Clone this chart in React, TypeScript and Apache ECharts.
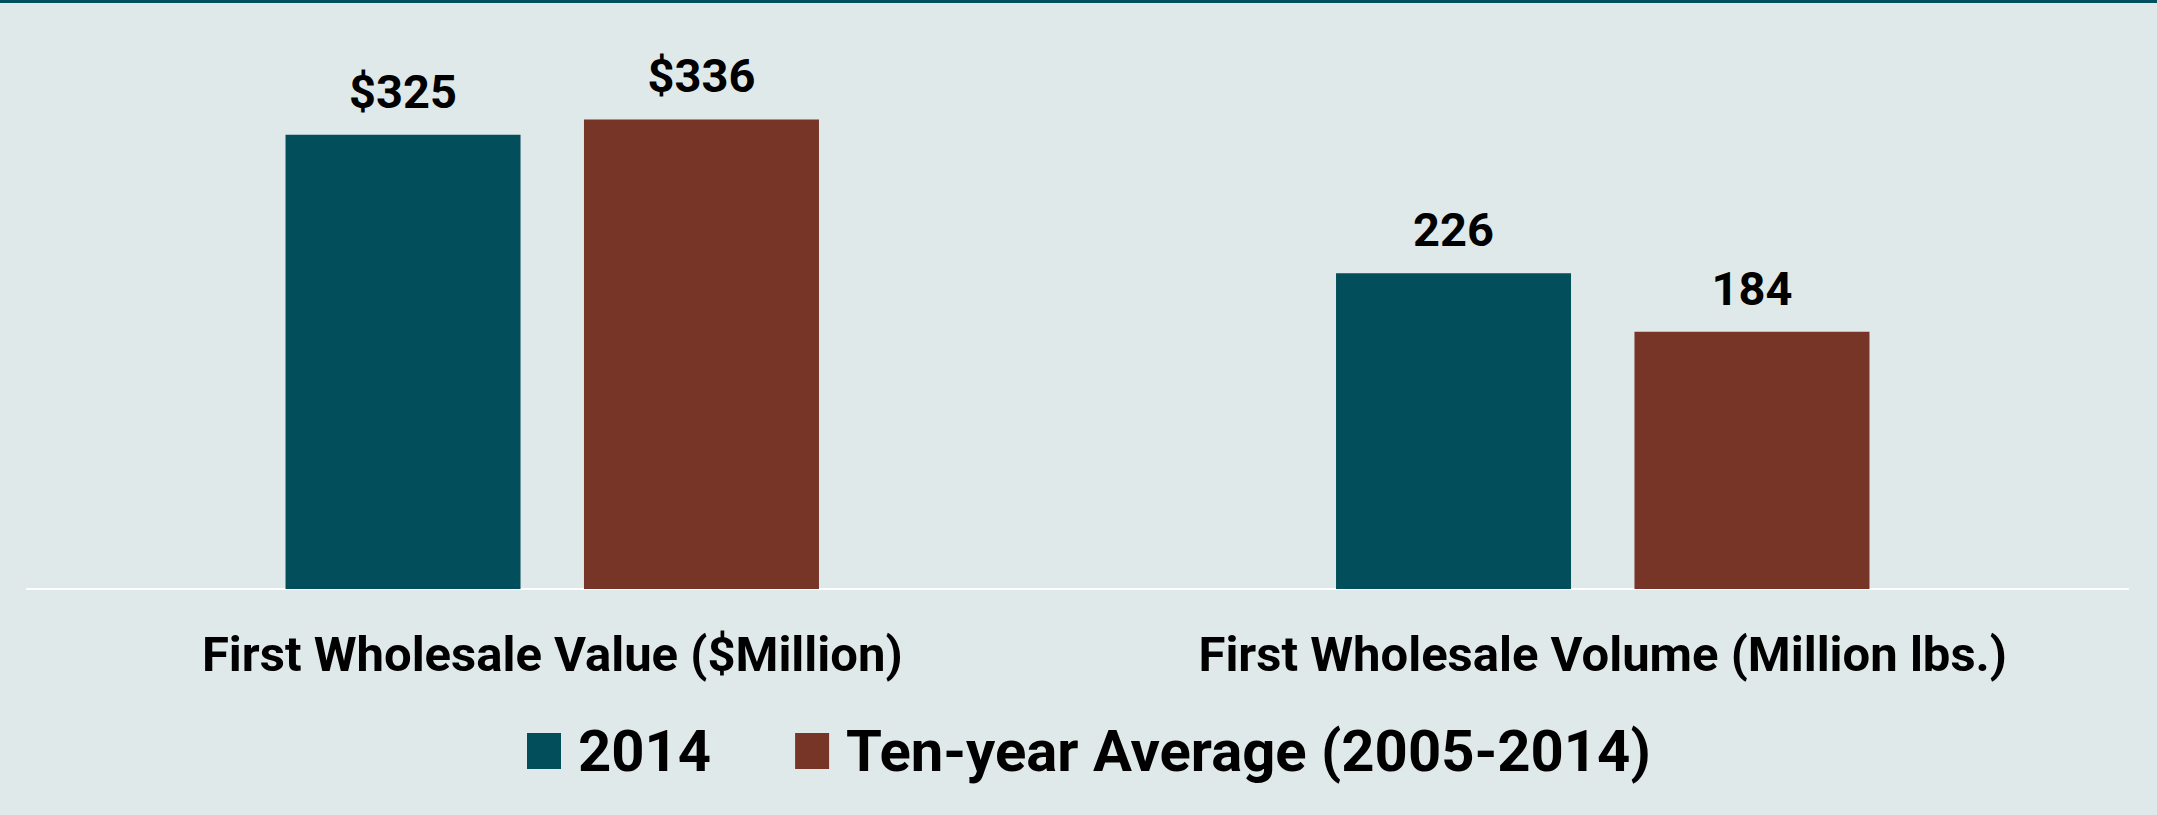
import React, { useEffect, useRef } from "react";
import * as echarts from "echarts";

const categories = ["First Wholesale Value ($Million)", "First Wholesale Volume (Million lbs.)"];
const seriesNames = ["2014", "Ten-year Average (2005-2014)"];
const values2014 = [325, 226];
const valuesAvg = [336, 184];
const labelPrefixes = ["$", ""];

const FONT = "Roboto, sans-serif";

export default function App() {
  const ref = useRef<HTMLDivElement>(null);
  useEffect(() => {
    document.body.style.margin = "0";
    const chart = echarts.init(ref.current!, null, { renderer: "svg" });
    const labelFmt = (p: any) => labelPrefixes[p.dataIndex] + p.value;
    const valueLabel = {
      show: true,
      position: "top",
      distance: 20,
      formatter: labelFmt,
      fontFamily: FONT,
      fontWeight: "bold",
      fontSize: 47,
      color: "#000",
    };
    chart.setOption({
      animation: false,
      backgroundColor: "#e0e9ea",
      graphic: [
        { type: "rect", left: 0, top: 0, shape: { width: 2157, height: 3 }, style: { fill: "#01505f" } },
      ],
      legend: {
        data: seriesNames,
        bottom: 30,
        left: 522,
        itemWidth: 34,
        itemHeight: 36,
        itemGap: 84,
        icon: "rect",
        textStyle: { fontFamily: FONT, fontWeight: "bold", fontSize: 58, color: "#000", padding: [0, 0, 0, 12] },
      },
      grid: { left: 27, right: 29, top: 30, bottom: 226 },
      xAxis: {
        type: "category",
        data: categories,
        axisLine: { lineStyle: { color: "#ffffff", width: 2 } },
        axisTick: { show: false },
        axisLabel: { interval: 0, margin: 41, fontFamily: FONT, fontWeight: "bold", fontSize: 49, color: "#000" },
      },
      yAxis: {
        type: "value",
        min: 0,
        max: 400,
        show: false,
        splitLine: { show: false },
      },
      series: [
        {
          name: seriesNames[0],
          type: "bar",
          data: values2014,
          barWidth: 235,
          barGap: "27%",
          itemStyle: { color: "#024e5a" },
          label: valueLabel,
        },
        {
          name: seriesNames[1],
          type: "bar",
          data: valuesAvg,
          barWidth: 235,
          barGap: "27%",
          itemStyle: { color: "#763526" },
          label: valueLabel,
        },
      ],
    });
    return () => chart.dispose();
  }, []);
  return <div ref={ref} style={{ position: "fixed", left: 0, top: 0, width: 2157, height: 815 }} />;
}
